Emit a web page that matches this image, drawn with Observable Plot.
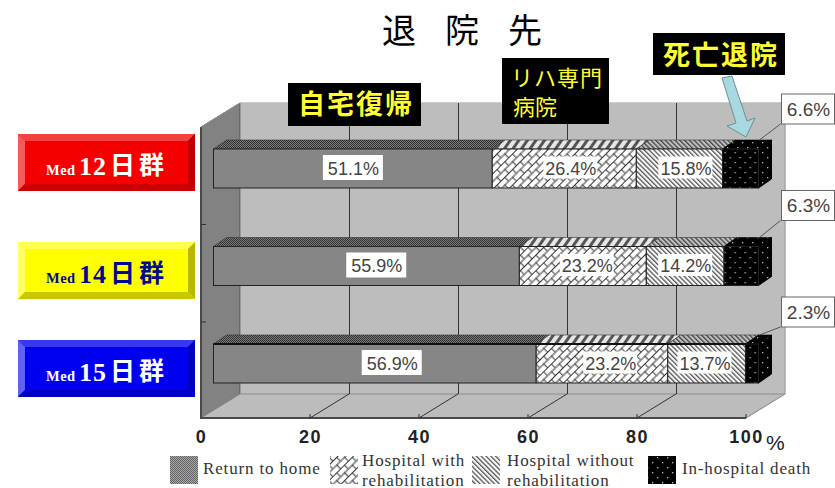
<!DOCTYPE html>
<html lang="ja">
<head>
<meta charset="utf-8">
<script src="https://cdn.jsdelivr.net/npm/d3@7"></script>
<script src="https://cdn.jsdelivr.net/npm/@observablehq/plot@0.6"></script>
<style>
  html, body { margin: 0; padding: 0; background: #fff; }
  svg { display: block; }
  [aria-label="x-axis tick label"] { letter-spacing: 1.5px; }
</style>
</head>
<body>
<div id="chart"></div>
<script>
// Discharge destination by median-stay group (percent of patients).
const groups = ["12", "14", "15"];
const categories = ["Return to home", "Hospital with rehabilitation", "Hospital without rehabilitation", "In-hospital death"];
const returnHome = [51.1, 55.9, 56.9];
const withRehab = [26.4, 23.2, 23.2];
const withoutRehab = [15.8, 14.2, 13.7];
const hospitalDeath = [6.6, 6.3, 2.3];
const axisTicks = [0, 20, 40, 60, 80, 100];
const seriesValues = [returnHome, withRehab, withoutRehab, hospitalDeath];

const rows = groups.flatMap((group, g) =>
  categories.map((category, c) => ({group, g, category, c, value: seriesValues[c][g]}))
);

// Cumulative shares per group, used for the bar depth faces and the inside labels.
const labelShift = [[0, 0.011, 0.011], [0.018, 0.007, 0], [0.031, 0.015, -0.004]];
for (const group of groups) {
  const inGroup = rows.filter((d) => d.group === group);
  const total = d3.sum(inGroup, (d) => d.value);
  let run = 0;
  for (const d of inGroup) {
    d.start = run / total;
    run += d.value;
    d.end = run / total;
    if (d.c < 3) d.labelX = (d.start + d.end) / 2 + labelShift[d.g][d.c];
  }
}

// Oblique depth of the chart box and of each bar.
const boxDx = 39, boxDy = 24;
const barShift = 12.5, barDx = 13, barDy = 9;

const urls = ["url(#home)", "url(#rehab)", "url(#norehab)", "url(#death)"];
const topUrls = ["url(#homeTop)", "url(#rehabTop)", "url(#norehabTop)", "url(#death)"];

const add = (parent, tag, attrs = {}, text) => {
  const node = document.createElementNS("http://www.w3.org/2000/svg", tag);
  if (tag === "text") node.setAttribute("text-anchor", "start");
  for (const [k, v] of Object.entries(attrs)) node.setAttribute(k, v);
  if (text != null) node.textContent = text;
  parent.appendChild(node);
  return node;
};
const poly = (parent, pts, attrs) => add(parent, "polygon", {points: pts.map((p) => p.join(",")).join(" "), ...attrs});
const group = () => document.createElementNS("http://www.w3.org/2000/svg", "g");

function patterns() {
  const g = group();
  const defs = add(g, "defs");
  const pat = (id, w, h, bg, extra = {}) => {
    const p = add(defs, "pattern", {id, width: w, height: h, patternUnits: "userSpaceOnUse", ...extra});
    add(p, "rect", {width: w, height: h, fill: bg});
    return p;
  };
  const check = (id, bg, fg) => {
    const p = pat(id, 2, 2, bg);
    add(p, "rect", {width: 1, height: 1, fill: fg});
    add(p, "rect", {x: 1, y: 1, width: 1, height: 1, fill: fg});
  };
  check("home", "#ababab", "#606060");
  check("homeTop", "#7c7c7c", "#303030");
  // Diagonal brick weave
  const p = pat("rehab", 11, 11, "#fff", {patternTransform: "rotate(-45)"});
  add(p, "path", {d: "M0,0.5H11M0,6H11M2.75,0V5.5M8.25,5.5V11", stroke: "#333", "stroke-width": 1, fill: "none"});
  const rt = pat("rehabTop", 7, 7, "#e6e6e6", {patternTransform: "rotate(35)"});
  add(rt, "rect", {width: 3, height: 7, fill: "#555"});
  // Fine backward diagonal stripes
  const stripes = (id, bg, fg) => {
    const s = pat(id, 3.4, 3.4, bg, {patternTransform: "rotate(-45)"});
    add(s, "rect", {width: 1.3, height: 3.4, fill: fg});
  };
  stripes("norehab", "#fafafa", "#555");
  stripes("norehabTop", "#c0c0c0", "#444");
  // Black with sparse staggered dots
  const d = pat("death", 10, 10, "#000");
  add(d, "rect", {x: 2, y: 2, width: 1.3, height: 1.3, fill: "#bbb"});
  add(d, "rect", {x: 7, y: 7, width: 1.3, height: 1.3, fill: "#bbb"});
  return g;
}

// Left wall, floor and the lines running across the floor.
function box(index, {x}, values, {height, marginBottom, marginTop}) {
  const g = group();
  const bottom = height - marginBottom;
  poly(g, [[x(0), marginTop + boxDy], [x(0) + boxDx, marginTop], [x(0) + boxDx, bottom - boxDy], [x(0), bottom]],
    {fill: "#828282", stroke: "#555"});
  poly(g, [[x(0), bottom], [x(0) + boxDx, bottom - boxDy], [x(1) + boxDx, bottom - boxDy], [x(1), bottom]],
    {fill: "#bcbcbc", stroke: "#8c8c8c"});
  add(g, "path", {d: `M${x(0)},${marginTop + boxDy}V${bottom}H${x(1)}`, fill: "none", stroke: "#4a4a4a", "stroke-width": 2});
  add(g, "path", {d: `M${x(0)},${marginTop + boxDy}L${x(0) + boxDx},${marginTop}H${x(1) + boxDx}V${bottom - boxDy}L${x(1)},${bottom}`,
    fill: "none", stroke: "#9a9a9a"});
  for (const t of axisTicks) {
    if (t > 0 && t < 100) {
      add(g, "line", {x1: x(t / 100), y1: bottom, x2: x(t / 100) + boxDx, y2: bottom - boxDy, stroke: "#333"});
    }
    if (t > 0) add(g, "line", {x1: x(t / 100), y1: bottom, x2: x(t / 100), y2: bottom - 4, stroke: "#333"});
  }
  return g;
}

function wallTicks(index, {y}) {
  const g = group();
  for (const grp of groups.slice(0, 2)) {
    const yy = y(grp) + y.bandwidth() + 36.5;
    add(g, "line", {x1: 201, y1: yy, x2: 206, y2: yy, stroke: "#333"});
  }
  return g;
}

// Top and end faces that give each stacked bar its depth.
function barFaces(index, {x, y}) {
  const g = group();
  for (const d of rows) {
    const x0 = x(d.start) + barShift, x1 = x(d.end) + barShift;
    const top = y(d.group), bot = top + y.bandwidth();
    poly(g, [[x0, top], [x0 + barDx, top - barDy], [x1 + barDx, top - barDy], [x1, top]],
      {fill: topUrls[d.c], stroke: d.c === 3 ? "#000" : "#333", "stroke-width": 0.6});
    if (d.c === 3) {
      poly(g, [[x1, top], [x1 + barDx, top - barDy], [x1 + barDx, bot - barDy], [x1, bot]], {fill: urls[3], stroke: "#000"});
    }
  }
  return g;
}

// The lowest bar carries a heavier line along its front top edge.
function lowestBarEdge(index, {x, y}) {
  const g = group();
  const top = y(groups[2]);
  add(g, "line", {x1: x(0) + barShift, y1: top, x2: x(1) + barShift, y2: top, stroke: "#111", "stroke-width": 2});
  return g;
}

function labelBoxes(index, {x, y}) {
  const g = group();
  for (const d of rows) {
    if (d.c === 3) continue;
    const w = d.c === 0 ? 60 : 54, h = d.c === 0 ? 25 : 22;
    add(g, "rect", {x: x(d.labelX) + barShift - w / 2, y: y(d.group) + y.bandwidth() / 2 - h / 2 - 1, width: w, height: h, fill: "#fff"});
  }
  return g;
}

// Boxed share of in-hospital deaths, with a leader down to the bar.
function deathCallouts(index, {x, y}) {
  const g = group();
  const lift = [55, 56, 47];
  groups.forEach((grp, i) => {
    const top = y(grp) - lift[i];
    const barRight = x(1) + barShift + barDx;
    add(g, "line", {x1: barRight + 9, y1: top + 30, x2: barRight - 12, y2: y(grp) - barDy, stroke: "#555"});
    add(g, "rect", {x: x(1) + 35.5, y: top, width: 53, height: 30, fill: "#fff", stroke: "#666"});
    add(g, "text", {x: x(1) + 62.5, y: top + 21.5, "text-anchor": "middle", "font-family": "Liberation Sans",
      "font-size": 19, fill: "#444"}, `${hospitalDeath[i]}%`);
  });
  return g;
}

// Bevelled group buttons down the left side.
function groupButtons(index, {y}) {
  const g = group();
  const looks = [
    {face: "#f50000", t: "#f34040", l: "#f85a5a", r: "#c00000", b: "#cc0000", ink: "#fff", raise: 15},
    {face: "#ffff00", t: "#ffff50", l: "#ffff66", r: "#b8b800", b: "#c8c800", ink: "#000a8c", raise: 4.5},
    {face: "#0000f0", t: "#3838f0", l: "#6060f8", r: "#0000c0", b: "#0000c8", ink: "#fff", raise: 4}
  ];
  groups.forEach((grp, i) => {
    const c = looks[i];
    const L = 18, R = 195, T = y(grp) - c.raise, B = T + 57, bl = 7, bt = 7;
    poly(g, [[L, T], [R, T], [R, B], [L, B]], {fill: c.face});
    poly(g, [[L, T], [R, T], [R - bl, T + bt], [L + bl, T + bt]], {fill: c.t});
    poly(g, [[L, T], [L + bl, T + bt], [L + bl, B - bt], [L, B]], {fill: c.l});
    poly(g, [[R, T], [R - bl, T + bt], [R - bl, B - bt], [R, B]], {fill: c.r});
    poly(g, [[L, B], [L + bl, B - bt], [R - bl, B - bt], [R, B]], {fill: c.b});
    const base = T + 41;
    add(g, "text", {x: 46, y: base, "font-family": "Liberation Serif", "font-weight": "bold", "font-size": 14.5, "letter-spacing": 0.5, fill: c.ink}, "Med");
    add(g, "text", {x: 79, y: base, "font-family": "Liberation Serif", "font-weight": "bold", "font-size": 26, "letter-spacing": 1, fill: c.ink}, grp);
    add(g, "text", {x: 110, y: base - 1, "font-family": "Noto Sans CJK JP", "font-weight": "bold", "font-size": 25, "letter-spacing": 4, fill: c.ink}, "日群");
  });
  return g;
}

// Title, black heading tags, arrow and the percent sign.
function annotations() {
  const g = group();
  const cjk = "Noto Sans CJK JP";
  add(g, "text", {x: 382, y: 43, "font-family": cjk, "font-size": 34, "letter-spacing": 10.7, fill: "#000"}, "退 院 先");
  const tag = (x, y, w, h) => add(g, "rect", {x, y, width: w, height: h, fill: "#000"});
  tag(288, 83, 133, 43);
  add(g, "text", {x: 356, y: 114, "text-anchor": "middle", "font-family": cjk, "font-weight": "bold", "font-size": 27, "letter-spacing": 2, fill: "#ffff33"}, "自宅復帰");
  tag(502, 58, 107, 66);
  add(g, "text", {x: 511, y: 86, "font-family": cjk, "font-size": 22, "letter-spacing": 1, fill: "#ffff33"}, "リハ専門");
  add(g, "text", {x: 513, y: 115, "font-family": cjk, "font-size": 22, fill: "#ffff33"}, "病院");
  tag(653, 33, 132, 42);
  add(g, "text", {x: 721, y: 65, "text-anchor": "middle", "font-family": cjk, "font-weight": "bold", "font-size": 27, "letter-spacing": 2, fill: "#ffff33"}, "死亡退院");
  poly(g, [[722, 78], [732, 76], [747, 121], [755, 118], [746, 137], [727, 126], [736, 123]], {fill: "#a8d8e0", stroke: "#6f8f96", "stroke-width": 1});
  add(g, "text", {x: 766, y: 450, "font-family": "Liberation Sans", "font-size": 21, fill: "#222"}, "%");
  return g;
}

// Swatches and names along the bottom edge.
function legend() {
  const g = group();
  const serif = {"font-family": "Liberation Serif", "font-size": 17, "letter-spacing": 0.85, fill: "#333"};
  const items = [
    {x: 170, lines: ["Return to home"]},
    {x: 330, lines: ["Hospital with", "rehabilitation"]},
    {x: 472, lines: ["Hospital without", "rehabilitation"]},
    {x: 648, lines: ["In-hospital death"]}
  ];
  items.forEach(({x, lines}, i) => {
    add(g, "rect", {x, y: 456, width: 28, height: 28, fill: urls[i]});
    const tx = x + (i === 1 ? 30 : i === 3 ? 34 : 33);
    if (lines.length === 1) add(g, "text", {x: tx, y: 474, ...serif}, lines[0]);
    else {
      // Two-line names share one text element with tight leading.
      const text = add(g, "text", {x: tx + 2, y: 466, ...serif});
      lines.forEach((t, k) => add(text, "tspan", {x: tx + 2, y: 466 + k * 19.5}, t));
    }
  });
  return g;
}

const chart = Plot.plot({
  width: 835,
  height: 488,
  marginLeft: 201,
  marginRight: 89,
  marginTop: 103,
  marginBottom: 70,
  style: {background: "#fff"},
  x: {domain: [0, 1], axis: null},
  y: {domain: groups, range: [90.5, 441.5], padding: 0.6, round: false, axis: null},
  color: {domain: categories, range: urls},
  marks: [
    patterns,
    Plot.frame({fill: "#bdbdbd", stroke: null, dx: boxDx, insetBottom: boxDy}),
    box,
    wallTicks,
    Plot.ruleX(axisTicks.filter((t) => t > 0 && t < 100), {x: (t) => t / 100, dx: boxDx, insetBottom: boxDy, stroke: "#333"}),
    Plot.axisX({ticks: axisTicks.map((t) => t / 100), tickFormat: (t) => Math.round(t * 100), tickSize: 0, tickPadding: 12,
      fontSize: 18, fontWeight: "bold", fontFamily: "Liberation Sans", color: "#222", label: null}),
    barFaces,
    Plot.barX(rows, Plot.stackX({x: "value", y: "group", fill: "category", offset: "normalize", order: null, dx: barShift, stroke: "#222", strokeWidth: 1})),
    lowestBarEdge,
    labelBoxes,
    Plot.text(rows.filter((d) => d.c < 3), {x: "labelX", y: "group", dx: barShift, text: (d) => `${d.value}%`,
      fontSize: 18, fontFamily: "Liberation Sans", fill: "#444"}),
    deathCallouts,
    groupButtons,
    annotations,
    legend
  ]
});
document.getElementById("chart").append(chart);
</script>
</body>
</html>
